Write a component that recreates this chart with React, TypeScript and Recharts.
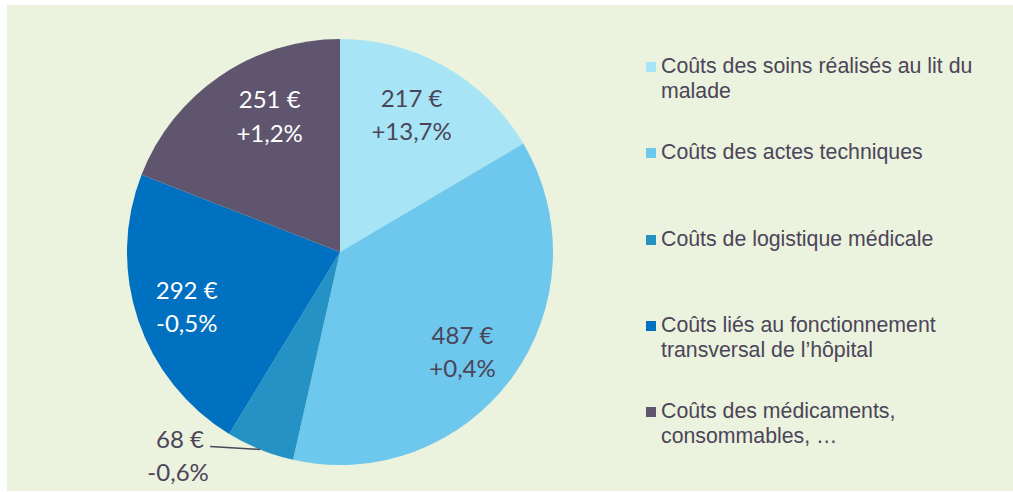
import { PieChart, Pie, Cell, Legend } from 'recharts';

// Valeurs
const categories = [
  'Coûts des soins réalisés au lit du malade',
  'Coûts des actes techniques',
  'Coûts de logistique médicale',
  'Coûts liés au fonctionnement transversal de l’hôpital',
  'Coûts des médicaments, consommables, …',
];
const amounts = [217, 487, 68, 292, 251];
const variations = ['+13,7%', '+0,4%', '-0,6%', '-0,5%', '+1,2%'];

const COLORS = ['#A6E4F6', '#6EC7EC', '#2592C6', '#0070C0', '#5F556F'];
const LABEL_COLORS = ['#4B4559', '#4B4559', '#4B4559', '#FFFFFF', '#FFFFFF'];
// petits décalages des étiquettes, comme dans l'original
const LABEL_SHIFT = [[-6, -3], [-4, 6], [0, 0], [-5, 3], [18, -8]];
const TEXT = '#4B4559';
const RAD = Math.PI / 180;

const data = categories.map((name, i) => ({
  name,
  value: amounts[i],
  variation: variations[i],
}));

const renderLabel = ({ cx, cy, midAngle, outerRadius, index }) => {
  const cos = Math.cos(-midAngle * RAD);
  const sin = Math.sin(-midAngle * RAD);
  const item = data[index];

  // petite part : étiquette à l'extérieur avec un trait
  if (index === 2) {
    const x0 = cx + outerRadius * cos;
    const y0 = cy + outerRadius * sin;
    const x1 = x0 - 50;
    const y1 = y0 - 3;
    return (
      <g>
        <line x1={x0} y1={y0} x2={x1} y2={y1} stroke={TEXT} strokeWidth={1.5} />
        <text x={x1 - 30} y={y1 - 8} fill={TEXT} fontSize={24} fontFamily="Lato" textAnchor="middle" dominantBaseline="central">
          {item.value} €
        </text>
        <text x={x1 - 32} y={y1 + 25} fill={TEXT} fontSize={24} fontFamily="Lato" textAnchor="middle" dominantBaseline="central">
          {item.variation}
        </text>
      </g>
    );
  }

  const r = outerRadius * 0.735;
  const x = cx + r * cos + LABEL_SHIFT[index][0];
  const y = cy + r * sin + LABEL_SHIFT[index][1];
  return (
    <text x={x} y={y} fill={LABEL_COLORS[index]} fontSize={24} fontFamily="Lato" textAnchor="middle" dominantBaseline="central">
      <tspan x={x} dy="-0.68em">{item.value} €</tspan>
      <tspan x={x} dy="1.38em">{item.variation}</tspan>
    </text>
  );
};

const LEGEND_TOPS = [54, 140, 227, 313, 399];

const renderLegend = () => (
  <div style={{ position: 'relative', width: 360, height: 460 }}>
    {data.map((entry, i) => (
      <div
        key={`legend-${i}`}
        style={{ position: 'absolute', left: 0, top: LEGEND_TOPS[i], display: 'flex', alignItems: 'flex-start' }}
      >
        <span
          style={{ width: 10, height: 10, marginTop: 8, marginRight: 5, background: COLORS[i], flex: 'none' }}
        />
        <span
          style={{
            width: 330,
            fontFamily: '"Liberation Sans", Arial, sans-serif',
            fontSize: 21.3,
            lineHeight: '25px',
            color: TEXT,
          }}
        >
          {entry.name}
        </span>
      </div>
    ))}
  </div>
);

export default function App() {
  return (
    <div style={{ position: 'absolute', left: 0, top: 0, width: 1013, height: 492, background: '#FFFFFF' }}>
      <div style={{ position: 'absolute', left: 7, top: 5, width: 1006, height: 486, background: '#EBF2DD' }} />
      <div style={{ position: 'absolute', left: 0, top: 0 }}>
        <PieChart width={1013} height={492} margin={{ top: 0, right: 0, bottom: 0, left: 0 }}>
          <Pie
            data={data}
            dataKey="value"
            cx={340}
            cy={252}
            outerRadius={213}
            startAngle={90}
            endAngle={-270}
            stroke="none"
            label={renderLabel}
            labelLine={false}
            isAnimationActive={false}
          >
            {data.map((entry, index) => (
              <Cell key={`cell-${index}`} fill={COLORS[index]} />
            ))}
          </Pie>
          <Legend
            content={renderLegend}
            wrapperStyle={{ position: 'absolute', left: 646, top: 0, width: 360, height: 460 }}
          />
        </PieChart>
      </div>
    </div>
  );
}
